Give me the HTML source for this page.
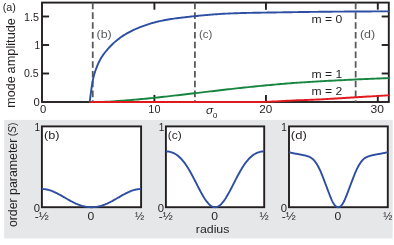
<!DOCTYPE html>
<html><head><meta charset="utf-8"><title>figure</title>
<style>
html,body{margin:0;padding:0;background:#fff;}
body{width:394px;height:245px;overflow:hidden;font-family:"Liberation Sans",sans-serif;}
svg{display:block;}
text{font-family:"Liberation Sans",sans-serif;}
</style></head><body>
<svg width="394" height="245" viewBox="0 0 394 245">
<rect x="0" y="0" width="394" height="245" fill="#ffffff"/>
<rect x="4.2" y="119.9" width="388.4" height="118.5" fill="#e6e7e8"/>

<!-- top panel -->
<g stroke="#231f20" stroke-width="1.9" fill="none">
<rect x="42.0" y="2.6" width="346.8" height="99.4"/>
<line x1="154.40" y1="102.0" x2="154.40" y2="94.9"/>
<line x1="154.40" y1="2.6" x2="154.40" y2="9.7"/>
<line x1="265.95" y1="102.0" x2="265.95" y2="94.9"/>
<line x1="265.95" y1="2.6" x2="265.95" y2="9.7"/>
<line x1="377.80" y1="102.0" x2="377.80" y2="94.9"/>
<line x1="377.80" y1="2.6" x2="377.80" y2="9.7"/>
<line x1="42.0" y1="73.50" x2="49.1" y2="73.50"/>
<line x1="388.8" y1="73.50" x2="381.7" y2="73.50"/>
<line x1="42.0" y1="45.00" x2="49.1" y2="45.00"/>
<line x1="388.8" y1="45.00" x2="381.7" y2="45.00"/>
<line x1="42.0" y1="16.50" x2="49.1" y2="16.50"/>
<line x1="388.8" y1="16.50" x2="381.7" y2="16.50"/>
</g>
<g stroke="#58595b" stroke-width="1.8" stroke-dasharray="6.6 3.17" fill="none">
<line x1="92.75" y1="2.6" x2="92.75" y2="102.0"/>
<line x1="194.9" y1="2.6" x2="194.9" y2="102.0"/>
<line x1="355.65" y1="2.6" x2="355.65" y2="102.0"/>
</g>
<path d="M89.20,102.00 L91.22,102.00 L93.23,101.99 L95.25,101.97 L97.26,101.94 L99.28,101.91 L101.29,101.88 L103.31,101.84 L105.32,101.79 L107.34,101.72 L109.35,101.60 L111.37,101.47 L113.39,101.34 L115.40,101.21 L117.42,101.07 L119.43,100.93 L121.45,100.78 L123.46,100.63 L125.48,100.47 L127.49,100.31 L129.51,100.14 L131.52,99.97 L133.54,99.80 L135.56,99.62 L137.57,99.44 L139.59,99.25 L141.60,99.07 L143.62,98.87 L145.63,98.68 L147.65,98.48 L149.66,98.28 L151.68,98.08 L153.69,97.87 L155.71,97.67 L157.72,97.45 L159.74,97.24 L161.76,97.02 L163.77,96.80 L165.79,96.58 L167.80,96.35 L169.82,96.12 L171.83,95.89 L173.85,95.66 L175.86,95.43 L177.88,95.19 L179.89,94.96 L181.91,94.72 L183.93,94.49 L185.94,94.25 L187.96,94.01 L189.97,93.78 L191.99,93.55 L194.00,93.31 L196.02,93.08 L198.03,92.85 L200.05,92.62 L202.06,92.38 L204.08,92.14 L206.10,91.90 L208.11,91.67 L210.13,91.43 L212.14,91.19 L214.16,90.95 L216.17,90.71 L218.19,90.47 L220.20,90.23 L222.22,89.99 L224.23,89.76 L226.25,89.53 L228.27,89.29 L230.28,89.07 L232.30,88.84 L234.31,88.61 L236.33,88.39 L238.34,88.18 L240.36,87.96 L242.37,87.75 L244.39,87.54 L246.40,87.33 L248.42,87.12 L250.43,86.91 L252.45,86.71 L254.47,86.51 L256.48,86.30 L258.50,86.10 L260.51,85.91 L262.53,85.71 L264.54,85.52 L266.56,85.32 L268.57,85.14 L270.59,84.95 L272.60,84.77 L274.62,84.58 L276.64,84.41 L278.65,84.23 L280.67,84.06 L282.68,83.89 L284.70,83.72 L286.71,83.55 L288.73,83.39 L290.74,83.23 L292.76,83.07 L294.77,82.92 L296.79,82.77 L298.81,82.63 L300.82,82.50 L302.84,82.36 L304.85,82.23 L306.87,82.10 L308.88,81.98 L310.90,81.85 L312.91,81.73 L314.93,81.61 L316.94,81.49 L318.96,81.37 L320.98,81.26 L322.99,81.14 L325.01,81.03 L327.02,80.92 L329.04,80.81 L331.05,80.70 L333.07,80.59 L335.08,80.49 L337.10,80.39 L339.11,80.28 L341.13,80.18 L343.14,80.08 L345.16,79.98 L347.18,79.89 L349.19,79.79 L351.21,79.69 L353.22,79.60 L355.24,79.50 L357.25,79.41 L359.27,79.32 L361.28,79.23 L363.30,79.14 L365.31,79.05 L367.33,78.97 L369.35,78.88 L371.36,78.80 L373.38,78.72 L375.39,78.63 L377.41,78.55 L379.42,78.47 L381.44,78.40 L383.45,78.32 L385.47,78.25 L387.48,78.17 L389.50,78.10" stroke="#17853f" stroke-width="1.9" fill="none"/>
<path d="M89.20,102.00 L91.22,102.00 L93.23,102.00 L95.25,102.00 L97.26,102.00 L99.28,102.00 L101.29,102.00 L103.31,102.00 L105.32,102.00 L107.34,102.00 L109.35,102.00 L111.37,102.00 L113.39,102.00 L115.40,102.00 L117.42,102.00 L119.43,102.00 L121.45,102.00 L123.46,102.00 L125.48,102.00 L127.49,102.00 L129.51,102.00 L131.52,102.00 L133.54,102.00 L135.56,102.00 L137.57,102.00 L139.59,102.00 L141.60,102.00 L143.62,102.00 L145.63,102.00 L147.65,102.00 L149.66,102.00 L151.68,102.00 L153.69,102.00 L155.71,102.00 L157.72,102.00 L159.74,102.00 L161.76,102.00 L163.77,102.00 L165.79,102.00 L167.80,102.00 L169.82,102.00 L171.83,102.00 L173.85,102.00 L175.86,102.00 L177.88,102.00 L179.89,102.00 L181.91,102.00 L183.93,102.00 L185.94,102.00 L187.96,102.00 L189.97,102.00 L191.99,102.00 L194.00,102.00 L196.02,102.00 L198.03,102.00 L200.05,102.00 L202.06,102.00 L204.08,102.00 L206.10,102.00 L208.11,102.00 L210.13,102.00 L212.14,102.00 L214.16,102.00 L216.17,102.00 L218.19,102.00 L220.20,102.00 L222.22,102.00 L224.23,102.00 L226.25,102.00 L228.27,102.00 L230.28,102.00 L232.30,102.00 L234.31,102.00 L236.33,102.00 L238.34,102.00 L240.36,102.00 L242.37,102.00 L244.39,102.00 L246.40,102.00 L248.42,102.00 L250.43,102.00 L252.45,102.00 L254.47,102.00 L256.48,102.00 L258.50,102.00 L260.51,101.98 L262.53,101.93 L264.54,101.86 L266.56,101.78 L268.57,101.69 L270.59,101.61 L272.60,101.53 L274.62,101.44 L276.64,101.35 L278.65,101.25 L280.67,101.14 L282.68,101.04 L284.70,100.93 L286.71,100.82 L288.73,100.71 L290.74,100.60 L292.76,100.50 L294.77,100.41 L296.79,100.32 L298.81,100.24 L300.82,100.16 L302.84,100.09 L304.85,100.02 L306.87,99.94 L308.88,99.87 L310.90,99.79 L312.91,99.72 L314.93,99.63 L316.94,99.55 L318.96,99.46 L320.98,99.36 L322.99,99.25 L325.01,99.15 L327.02,99.04 L329.04,98.92 L331.05,98.81 L333.07,98.69 L335.08,98.57 L337.10,98.44 L339.11,98.32 L341.13,98.19 L343.14,98.06 L345.16,97.94 L347.18,97.81 L349.19,97.68 L351.21,97.56 L353.22,97.43 L355.24,97.31 L357.25,97.18 L359.27,97.06 L361.28,96.94 L363.30,96.82 L365.31,96.70 L367.33,96.57 L369.35,96.45 L371.36,96.33 L373.38,96.20 L375.39,96.08 L377.41,95.95 L379.42,95.83 L381.44,95.70 L383.45,95.58 L385.47,95.45 L387.48,95.33 L389.50,95.20" stroke="#e2181f" stroke-width="1.9" fill="none"/>
<path d="M89.70,102.00 L89.97,99.81 L90.24,97.67 L90.51,95.58 L90.79,93.55 L91.06,91.59 L91.33,89.64 L91.60,87.70 L91.87,85.84 L92.14,84.08 L92.41,82.47 L92.69,81.03 L92.96,79.68 L93.23,78.42 L93.50,77.25 L93.77,76.16 L94.04,75.14 L94.31,74.19 L94.59,73.28 L94.86,72.41 L95.13,71.58 L95.40,70.78 L95.67,70.00 L95.94,69.26 L96.21,68.53 L96.49,67.81 L96.76,67.11 L97.03,66.42 L97.30,65.74 L97.57,65.08 L97.84,64.44 L98.11,63.81 L98.39,63.20 L98.66,62.61 L98.93,62.04 L99.20,61.50 L99.47,60.97 L99.74,60.45 L100.01,59.95 L100.29,59.46 L100.56,58.98 L100.83,58.51 L101.10,58.05 L101.37,57.60 L101.64,57.17 L101.91,56.74 L102.19,56.31 L102.46,55.90 L102.73,55.50 L103.00,55.10 L103.50,54.39 L104.94,52.54 L106.37,50.77 L107.81,49.08 L109.25,47.48 L110.69,45.96 L112.12,44.53 L113.56,43.16 L115.00,41.87 L116.43,40.64 L117.87,39.48 L119.31,38.38 L120.75,37.33 L122.18,36.34 L123.62,35.40 L125.06,34.50 L126.49,33.65 L127.93,32.84 L129.37,32.06 L130.81,31.32 L132.24,30.61 L133.68,29.92 L135.12,29.26 L136.56,28.63 L137.99,28.02 L139.43,27.44 L140.87,26.87 L142.30,26.32 L143.74,25.79 L145.18,25.29 L146.62,24.80 L148.05,24.33 L149.49,23.87 L150.93,23.44 L152.36,23.02 L153.80,22.62 L155.24,22.24 L156.68,21.88 L158.11,21.53 L159.55,21.19 L160.99,20.88 L162.42,20.57 L163.86,20.29 L165.30,20.01 L166.74,19.75 L168.17,19.51 L169.61,19.27 L171.05,19.05 L172.48,18.84 L173.92,18.63 L175.36,18.43 L176.80,18.24 L178.23,18.05 L179.67,17.87 L181.11,17.70 L182.55,17.53 L183.98,17.36 L185.42,17.19 L186.86,17.03 L188.29,16.87 L189.73,16.71 L191.17,16.55 L192.61,16.40 L194.04,16.24 L195.48,16.09 L196.92,15.94 L198.35,15.80 L199.79,15.65 L201.23,15.51 L202.67,15.37 L204.10,15.24 L205.54,15.10 L206.98,14.98 L208.41,14.85 L209.85,14.73 L211.29,14.61 L212.73,14.50 L214.16,14.39 L215.60,14.28 L217.04,14.18 L218.47,14.08 L219.91,13.99 L221.35,13.90 L222.79,13.81 L224.22,13.73 L225.66,13.66 L227.10,13.58 L228.54,13.52 L229.97,13.45 L231.41,13.39 L232.85,13.34 L234.28,13.28 L235.72,13.23 L237.16,13.19 L238.60,13.14 L240.03,13.10 L241.47,13.06 L242.91,13.03 L244.34,12.99 L245.78,12.96 L247.22,12.92 L248.66,12.89 L250.09,12.86 L251.53,12.84 L252.97,12.81 L254.40,12.78 L255.84,12.76 L257.28,12.73 L258.72,12.71 L260.15,12.68 L261.59,12.66 L263.03,12.64 L264.46,12.61 L265.90,12.59 L267.34,12.57 L268.78,12.54 L270.21,12.52 L271.65,12.50 L273.09,12.47 L274.53,12.45 L275.96,12.43 L277.40,12.40 L278.84,12.38 L280.27,12.36 L281.71,12.33 L283.15,12.31 L284.59,12.29 L286.02,12.27 L287.46,12.24 L288.90,12.22 L290.33,12.20 L291.77,12.18 L293.21,12.16 L294.65,12.14 L296.08,12.11 L297.52,12.09 L298.96,12.07 L300.39,12.05 L301.83,12.03 L303.27,12.01 L304.71,11.99 L306.14,11.97 L307.58,11.96 L309.02,11.94 L310.45,11.92 L311.89,11.90 L313.33,11.88 L314.77,11.86 L316.20,11.85 L317.64,11.83 L319.08,11.81 L320.52,11.80 L321.95,11.78 L323.39,11.76 L324.83,11.75 L326.26,11.73 L327.70,11.72 L329.14,11.70 L330.58,11.69 L332.01,11.68 L333.45,11.66 L334.89,11.65 L336.32,11.64 L337.76,11.62 L339.20,11.61 L340.64,11.60 L342.07,11.59 L343.51,11.58 L344.95,11.57 L346.38,11.56 L347.82,11.55 L349.26,11.54 L350.70,11.53 L352.13,11.52 L353.57,11.51 L355.01,11.50 L356.44,11.49 L357.88,11.48 L359.32,11.48 L360.76,11.47 L362.19,11.46 L363.63,11.46 L365.07,11.45 L366.51,11.44 L367.94,11.44 L369.38,11.43 L370.82,11.43 L372.25,11.42 L373.69,11.42 L375.13,11.42 L376.57,11.41 L378.00,11.41 L379.44,11.41 L380.88,11.41 L382.31,11.40 L383.75,11.40 L385.19,11.40 L386.63,11.40 L388.06,11.40 L389.50,11.40" stroke="#2e4ea3" stroke-width="1.9" fill="none" stroke-linejoin="round"/>
<rect x="41.9" y="126.4" width="99.20" height="80.80" fill="#fff" stroke="#231f20" stroke-width="1.9"/>
<path d="M41.90,189.02 L42.73,189.03 L43.55,189.08 L44.38,189.15 L45.21,189.25 L46.03,189.37 L46.86,189.53 L47.69,189.71 L48.51,189.91 L49.34,190.14 L50.17,190.40 L50.99,190.68 L51.82,190.98 L52.65,191.30 L53.47,191.64 L54.30,192.01 L55.13,192.38 L55.95,192.78 L56.78,193.19 L57.61,193.61 L58.43,194.05 L59.26,194.50 L60.09,194.95 L60.91,195.42 L61.74,195.89 L62.57,196.36 L63.39,196.84 L64.22,197.32 L65.05,197.80 L65.87,198.28 L66.70,198.76 L67.53,199.23 L68.35,199.70 L69.18,200.16 L70.01,200.62 L70.83,201.07 L71.66,201.50 L72.49,201.93 L73.31,202.35 L74.14,202.75 L74.97,203.14 L75.79,203.52 L76.62,203.88 L77.45,204.22 L78.27,204.55 L79.10,204.86 L79.93,205.15 L80.75,205.43 L81.58,205.69 L82.41,205.93 L83.23,206.14 L84.06,206.34 L84.89,206.52 L85.71,206.68 L86.54,206.82 L87.37,206.93 L88.19,207.03 L89.02,207.10 L89.85,207.16 L90.67,207.19 L91.50,207.20 L92.33,207.19 L93.15,207.16 L93.98,207.10 L94.81,207.03 L95.63,206.93 L96.46,206.82 L97.29,206.68 L98.11,206.52 L98.94,206.34 L99.77,206.14 L100.59,205.93 L101.42,205.69 L102.25,205.43 L103.07,205.15 L103.90,204.86 L104.73,204.55 L105.55,204.22 L106.38,203.88 L107.21,203.52 L108.03,203.14 L108.86,202.75 L109.69,202.35 L110.51,201.93 L111.34,201.50 L112.17,201.07 L112.99,200.62 L113.82,200.16 L114.65,199.70 L115.47,199.23 L116.30,198.76 L117.13,198.28 L117.95,197.80 L118.78,197.32 L119.61,196.84 L120.43,196.36 L121.26,195.89 L122.09,195.42 L122.91,194.95 L123.74,194.50 L124.57,194.05 L125.39,193.61 L126.22,193.19 L127.05,192.78 L127.87,192.38 L128.70,192.01 L129.53,191.64 L130.35,191.30 L131.18,190.98 L132.01,190.68 L132.83,190.40 L133.66,190.14 L134.49,189.91 L135.31,189.71 L136.14,189.53 L136.97,189.37 L137.79,189.25 L138.62,189.15 L139.45,189.08 L140.27,189.03 L141.10,189.02" stroke="#2e4ea3" stroke-width="1.9" fill="none"/>
<rect x="165.9" y="126.4" width="98.30" height="80.80" fill="#fff" stroke="#231f20" stroke-width="1.9"/>
<path d="M165.90,151.37 L166.72,151.39 L167.54,151.44 L168.36,151.54 L169.18,151.67 L170.00,151.85 L170.81,152.06 L171.63,152.32 L172.45,152.62 L173.27,152.96 L174.09,153.35 L174.91,153.78 L175.73,154.26 L176.55,154.80 L177.37,155.38 L178.19,156.02 L179.01,156.71 L179.83,157.46 L180.65,158.26 L181.46,159.12 L182.28,160.04 L183.10,161.02 L183.92,162.05 L184.74,163.14 L185.56,164.28 L186.38,165.48 L187.20,166.74 L188.02,168.04 L188.84,169.40 L189.66,170.80 L190.47,172.24 L191.29,173.72 L192.11,175.23 L192.93,176.78 L193.75,178.35 L194.57,179.94 L195.39,181.54 L196.21,183.15 L197.03,184.76 L197.85,186.36 L198.67,187.96 L199.49,189.53 L200.31,191.08 L201.12,192.60 L201.94,194.07 L202.76,195.50 L203.58,196.87 L204.40,198.19 L205.22,199.43 L206.04,200.61 L206.86,201.70 L207.68,202.71 L208.50,203.62 L209.32,204.44 L210.13,205.16 L210.95,205.78 L211.77,206.29 L212.59,206.68 L213.41,206.97 L214.23,207.14 L215.05,207.20 L215.87,207.14 L216.69,206.97 L217.51,206.68 L218.33,206.29 L219.15,205.78 L219.97,205.16 L220.78,204.44 L221.60,203.62 L222.42,202.71 L223.24,201.70 L224.06,200.61 L224.88,199.43 L225.70,198.19 L226.52,196.87 L227.34,195.50 L228.16,194.07 L228.98,192.60 L229.79,191.08 L230.61,189.53 L231.43,187.96 L232.25,186.36 L233.07,184.76 L233.89,183.15 L234.71,181.54 L235.53,179.94 L236.35,178.35 L237.17,176.78 L237.99,175.23 L238.81,173.72 L239.62,172.24 L240.44,170.80 L241.26,169.40 L242.08,168.04 L242.90,166.74 L243.72,165.48 L244.54,164.28 L245.36,163.14 L246.18,162.05 L247.00,161.02 L247.82,160.04 L248.64,159.12 L249.45,158.26 L250.27,157.46 L251.09,156.71 L251.91,156.02 L252.73,155.38 L253.55,154.80 L254.37,154.26 L255.19,153.78 L256.01,153.35 L256.83,152.96 L257.65,152.62 L258.47,152.32 L259.28,152.06 L260.10,151.85 L260.92,151.67 L261.74,151.54 L262.56,151.44 L263.38,151.39 L264.20,151.37" stroke="#2e4ea3" stroke-width="1.9" fill="none"/>
<rect x="289.0" y="126.4" width="98.80" height="80.80" fill="#fff" stroke="#231f20" stroke-width="1.9"/>
<path d="M289.00,152.20 L289.62,152.37 L290.24,152.53 L290.86,152.68 L291.49,152.83 L292.11,152.96 L292.73,153.10 L293.35,153.22 L293.97,153.34 L294.59,153.46 L295.21,153.58 L295.84,153.69 L296.46,153.80 L297.08,153.91 L297.70,154.02 L298.32,154.13 L298.94,154.24 L299.56,154.35 L300.18,154.46 L300.81,154.58 L301.43,154.70 L302.05,154.82 L302.67,154.95 L303.29,155.08 L303.91,155.22 L304.53,155.37 L305.16,155.53 L305.78,155.69 L306.40,155.86 L307.02,156.05 L307.64,156.24 L308.26,156.45 L308.88,156.68 L309.51,156.94 L310.13,157.23 L310.75,157.57 L311.37,157.95 L311.99,158.39 L312.61,158.90 L313.23,159.47 L313.86,160.11 L314.48,160.81 L315.10,161.59 L315.72,162.44 L316.34,163.35 L316.96,164.34 L317.58,165.40 L318.21,166.52 L318.83,167.72 L319.45,168.98 L320.07,170.31 L320.69,171.71 L321.31,173.17 L321.93,174.68 L322.55,176.24 L323.18,177.83 L323.80,179.45 L324.42,181.09 L325.04,182.74 L325.66,184.38 L326.28,186.03 L326.90,187.68 L327.53,189.33 L328.15,190.97 L328.77,192.62 L329.39,194.25 L330.01,195.86 L330.63,197.43 L331.25,198.92 L331.88,200.32 L332.50,201.61 L333.12,202.76 L333.74,203.77 L334.36,204.64 L334.98,205.39 L335.60,206.00 L336.23,206.50 L336.85,206.87 L337.47,207.10 L338.09,207.20 L338.71,207.15 L339.33,206.96 L339.95,206.64 L340.57,206.19 L341.20,205.62 L341.82,204.92 L342.44,204.10 L343.06,203.13 L343.68,202.03 L344.30,200.79 L344.92,199.43 L345.55,197.97 L346.17,196.43 L346.79,194.83 L347.41,193.20 L348.03,191.56 L348.65,189.92 L349.27,188.27 L349.90,186.62 L350.52,184.97 L351.14,183.32 L351.76,181.68 L352.38,180.04 L353.00,178.41 L353.62,176.80 L354.25,175.23 L354.87,173.70 L355.49,172.22 L356.11,170.80 L356.73,169.45 L357.35,168.16 L357.97,166.94 L358.59,165.79 L359.22,164.71 L359.84,163.70 L360.46,162.76 L361.08,161.88 L361.70,161.08 L362.32,160.35 L362.94,159.69 L363.57,159.09 L364.19,158.56 L364.81,158.10 L365.43,157.70 L366.05,157.34 L366.67,157.04 L367.29,156.77 L367.92,156.53 L368.54,156.31 L369.16,156.11 L369.78,155.93 L370.40,155.75 L371.02,155.58 L371.64,155.43 L372.27,155.28 L372.89,155.13 L373.51,155.00 L374.13,154.87 L374.75,154.74 L375.37,154.62 L375.99,154.50 L376.62,154.39 L377.24,154.28 L377.86,154.17 L378.48,154.06 L379.10,153.95 L379.72,153.84 L380.34,153.73 L380.96,153.62 L381.59,153.50 L382.21,153.39 L382.83,153.27 L383.45,153.14 L384.07,153.01 L384.69,152.88 L385.31,152.73 L385.94,152.58 L386.56,152.43 L387.18,152.26 L387.80,152.09" stroke="#2e4ea3" stroke-width="1.9" fill="none"/>
<g fill="#231f20" font-size="11.8" opacity="0.999">
<text x="2.73" y="11.2" font-size="11.8" textLength="13.24" lengthAdjust="spacingAndGlyphs">(a)</text>
<text x="24.08" y="20.5" font-size="11.8" textLength="14.97" lengthAdjust="spacingAndGlyphs">1.5</text>
<text x="34.49" y="48.9" font-size="11.8" textLength="5.58" lengthAdjust="spacingAndGlyphs">1</text>
<text x="23.89" y="77.4" font-size="11.8" textLength="14.76" lengthAdjust="spacingAndGlyphs">0.5</text>
<text x="33.56" y="105.8" font-size="11.8" textLength="6.28" lengthAdjust="spacingAndGlyphs">0</text>
<text x="39.96" y="113.0" font-size="11.8" textLength="6.28" lengthAdjust="spacingAndGlyphs">0</text>
<text x="148.37" y="113.0" font-size="11.8" textLength="12.05" lengthAdjust="spacingAndGlyphs">10</text>
<text x="259.21" y="113.0" font-size="11.8" textLength="13.05" lengthAdjust="spacingAndGlyphs">20</text>
<text x="370.54" y="113.0" font-size="11.8" textLength="13.43" lengthAdjust="spacingAndGlyphs">30</text>
<text x="206.0" y="113.8" font-size="11.8" font-style="italic">σ</text>
<text x="212.7" y="117.6" font-size="8.2">o</text>
<text x="311.49" y="23.2" font-size="11.8" textLength="30.78" lengthAdjust="spacingAndGlyphs">m = 0</text>
<text x="311.49" y="77.5" font-size="11.8" textLength="30.80" lengthAdjust="spacingAndGlyphs">m = 1</text>
<text x="311.49" y="95.1" font-size="11.8" textLength="30.72" lengthAdjust="spacingAndGlyphs">m = 2</text>
<text transform="translate(15.0,107.63) rotate(-90)" font-size="12" textLength="31.29" lengthAdjust="spacingAndGlyphs">mode</text>
<text transform="translate(15.0,73.44) rotate(-90)" font-size="12" textLength="55.41" lengthAdjust="spacingAndGlyphs">amplitude</text>
<text transform="translate(16.6,227.12) rotate(-90)" font-size="12" textLength="88.42" lengthAdjust="spacingAndGlyphs">order parameter</text>
<text transform="translate(16.1,136.35) rotate(-90)" font-size="11" textLength="13.89" lengthAdjust="spacingAndGlyphs">(<tspan font-style="italic">S</tspan>)</text>
<text x="96.53" y="37.6" font-size="11.8" textLength="15.14" lengthAdjust="spacingAndGlyphs" fill="#58595b">(b)</text>
<text x="198.99" y="37.6" font-size="11.8" textLength="13.43" lengthAdjust="spacingAndGlyphs" fill="#58595b">(c)</text>
<text x="359.93" y="37.6" font-size="11.8" textLength="15.25" lengthAdjust="spacingAndGlyphs" fill="#58595b">(d)</text>
<text x="44.01" y="138.6" font-size="11.8" textLength="15.58" lengthAdjust="spacingAndGlyphs">(b)</text>
<text x="167.76" y="138.6" font-size="11.8" textLength="13.88" lengthAdjust="spacingAndGlyphs">(c)</text>
<text x="290.89" y="138.6" font-size="11.8" textLength="15.92" lengthAdjust="spacingAndGlyphs">(d)</text>
<text x="34.49" y="130.8" font-size="11.8" textLength="5.58" lengthAdjust="spacingAndGlyphs">1</text>
<text x="33.66" y="211.8" font-size="11.8" textLength="6.28" lengthAdjust="spacingAndGlyphs">0</text>
<text x="34.76" y="219.9" font-size="11.8" textLength="14.06" lengthAdjust="spacingAndGlyphs">-½</text>
<text x="158.79" y="130.8" font-size="11.8" textLength="5.58" lengthAdjust="spacingAndGlyphs">1</text>
<text x="157.66" y="211.8" font-size="11.8" textLength="6.28" lengthAdjust="spacingAndGlyphs">0</text>
<text x="158.76" y="219.9" font-size="11.8" textLength="14.06" lengthAdjust="spacingAndGlyphs">-½</text>
<text x="281.29" y="130.8" font-size="11.8" textLength="5.58" lengthAdjust="spacingAndGlyphs">1</text>
<text x="280.76" y="211.8" font-size="11.8" textLength="6.28" lengthAdjust="spacingAndGlyphs">0</text>
<text x="281.86" y="219.9" font-size="11.8" textLength="14.06" lengthAdjust="spacingAndGlyphs">-½</text>
<text x="87.48" y="219.9" font-size="11.8" textLength="6.75" lengthAdjust="spacingAndGlyphs">0</text>
<text x="211.33" y="219.9" font-size="11.8" textLength="6.75" lengthAdjust="spacingAndGlyphs">0</text>
<text x="334.48" y="219.9" font-size="11.8" textLength="6.75" lengthAdjust="spacingAndGlyphs">0</text>
<text x="135.10" y="219.9" font-size="11.8" textLength="9.20" lengthAdjust="spacingAndGlyphs">½</text>
<text x="259.40" y="219.9" font-size="11.8" textLength="9.20" lengthAdjust="spacingAndGlyphs">½</text>
<text x="383.30" y="219.9" font-size="11.8" textLength="9.20" lengthAdjust="spacingAndGlyphs">½</text>
<text x="195.78" y="232.8" font-size="11.8" textLength="33.67" lengthAdjust="spacingAndGlyphs">radius</text>
</g>
</svg>
</body></html>
